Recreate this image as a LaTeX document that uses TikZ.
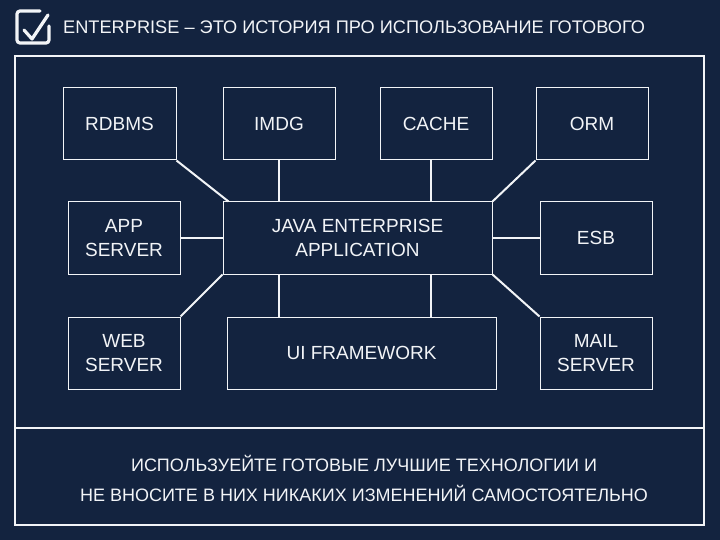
\documentclass[tikz,border=0pt]{standalone}
\usepackage{fontspec}
\setmainfont{Liberation Sans}
\usetikzlibrary{positioning}
\definecolor{Navy}{HTML}{13233F}
\definecolor{Chalk}{HTML}{F2F4F7}
\tikzset{
  techbox/.style={
    draw=Chalk, line width=1pt, text=Chalk, align=center,
    minimum width=112pt, minimum height=72pt, inner sep=0pt,
    font=\fontsize{19}{24}\selectfont
  },
  widebox/.style={techbox, minimum width=269pt},
  link/.style={draw=Chalk, line width=2pt},
  frameline/.style={draw=Chalk, line width=1.3pt},
  note/.style={text=Chalk, inner sep=0pt, font=\fontsize{18}{20}\selectfont}
}

\begin{document}
\begin{tikzpicture}[x=1pt,y=-1pt]
    \fill[Navy] (0,0) rectangle (720,540);
    \useasboundingbox (0,0) rectangle (720,540);
    % header
    \draw[Chalk, line width=3.2pt, rounded corners=3pt, line cap=round]
      (40,11) -- (17,11) -- (17,43) -- (49,43) -- (49,26);
    \draw[Chalk, line width=3.2pt, line cap=round, line join=round]
      (24,30) -- (32,39) -- (48,15);
    \node[anchor=base west, text=Chalk, inner sep=0pt,
      font=\fontsize{18.2}{22}\selectfont] (title) at (63,34)
      {ENTERPRISE – ЭТО ИСТОРИЯ ПРО ИСПОЛЬЗОВАНИЕ ГОТОВОГО};
    % frame
    \draw[frameline] (15,56) rectangle (704,525);
    \draw[frameline] (15,428) -- (704,428);
    % top row
    \node[techbox, minimum width=113pt] (rdbms) at (119.5,124) {RDBMS};
    \node[techbox] (imdg) at (279,124) {IMDG};
    \node[techbox] (cache) at (436,124) {CACHE};
    \node[techbox] (orm) at (592,124) {ORM};
    % middle row
    \node[techbox] (app) at (124,238) {APP\\SERVER};
    \node[widebox] (java) at (357.5,238) {JAVA ENTERPRISE\\APPLICATION};
    \node[techbox] (esb) at (596,238) {ESB};
    % bottom row
    \node[techbox] (web) at (124,353) {WEB\\SERVER};
    \node[widebox] (ui) at (361.5,353) {UI FRAMEWORK};
    \node[techbox] (mail) at (596,353) {MAIL\\SERVER};
    % links
    \draw[link] (rdbms.south east) -- ([xshift=6pt]java.north west);
    \draw[link] (imdg.south) -- (imdg.south |- java.north);
    \draw[link] ([xshift=-5pt]cache.south) -- ([xshift=-5pt]cache.south |- java.north);
    \draw[link] (orm.south west) -- (java.north east);
    \draw[link] (app.east) -- (app.east -| java.west);
    \draw[link] (java.east) -- (java.east -| esb.west);
    \draw[link] (web.north east) -- (java.south west);
    \draw[link] (imdg.south |- java.south) -- (imdg.south |- ui.north);
    \draw[link] ([xshift=-5pt]cache.south |- java.south) -- ([xshift=-5pt]cache.south |- ui.north);
    \draw[link] (java.south east) -- (mail.north west);
    % bottom note
    \node[note] (tip1) at (364,463) {ИСПОЛЬЗУЕЙТЕ ГОТОВЫЕ ЛУЧШИЕ ТЕХНОЛОГИИ И};
    \node[note] (tip2) at (364,493) {НЕ ВНОСИТЕ В НИХ НИКАКИХ ИЗМЕНЕНИЙ САМОСТОЯТЕЛЬНО};
\end{tikzpicture}
\end{document}
